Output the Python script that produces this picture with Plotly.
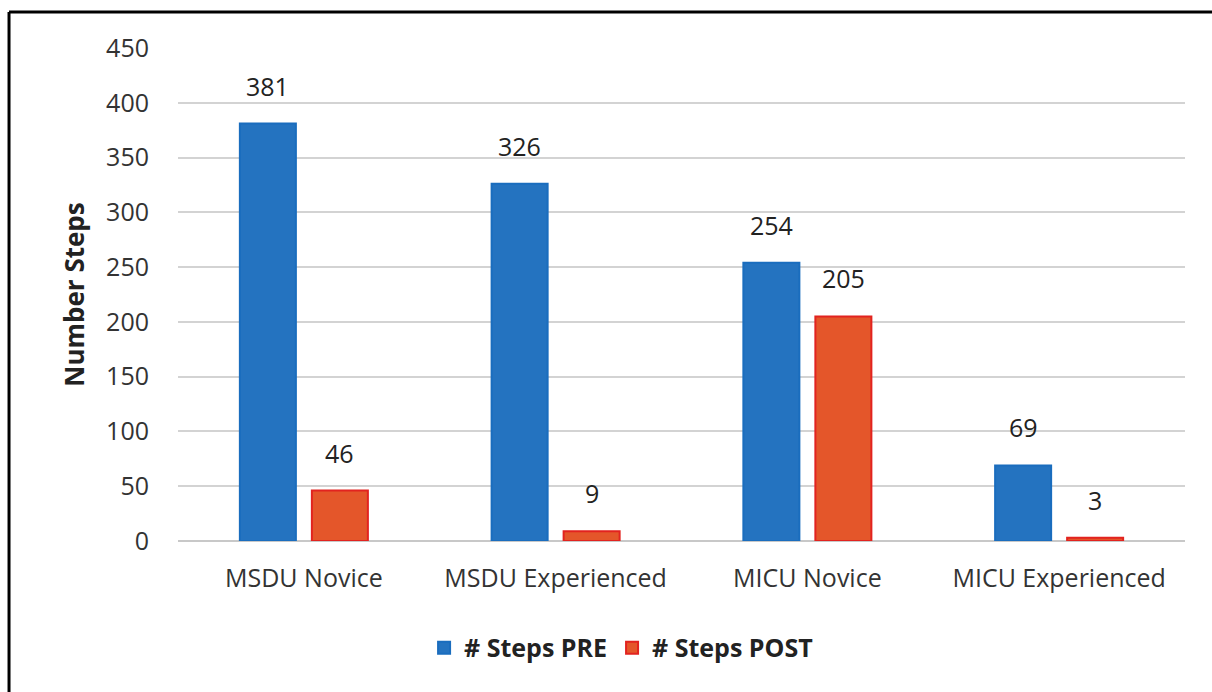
import plotly.graph_objects as go

categories = ["MSDU Novice", "MSDU Experienced", "MICU Novice", "MICU Experienced"]
pre_values = [381, 326, 254, 69]
post_values = [46, 9, 205, 3]
series_names = ["# Steps PRE", "# Steps POST"]
y_ticks = [0, 50, 100, 150, 200, 250, 300, 350, 400, 450]

BLUE = "#2473C0"
BLUE_EDGE = "#1A6DBE"
ORANGE = "#E4562A"
RED_EDGE = "#E2231F"
FONT = "Open Sans"

fig = go.Figure()
fig.add_trace(go.Bar(x=categories, y=pre_values, name=series_names[0],
                     marker=dict(color=BLUE, line=dict(color=BLUE_EDGE, width=2))))
fig.add_trace(go.Bar(x=categories, y=post_values, name=series_names[1],
                     marker=dict(color=ORANGE, line=dict(color=RED_EDGE, width=2))))

# value labels above bars
for i, c in enumerate(categories):
    fig.add_annotation(x=c, y=pre_values[i], text=str(pre_values[i]), showarrow=False,
                       yanchor="bottom", xshift=-36, yshift=19,
                       font=dict(family=FONT, size=25, color="#222"))
    fig.add_annotation(x=c, y=post_values[i], text=str(post_values[i]), showarrow=False,
                       yanchor="bottom", xshift=36, yshift=19,
                       font=dict(family=FONT, size=25, color="#222"))

# outer frame (cropped at right and bottom)
fig.add_shape(type="line", xref="paper", yref="paper", x0=-0.1678, x1=-0.1678, y0=-0.4, y1=1.073,
              line=dict(color="black", width=3))
fig.add_shape(type="line", xref="paper", yref="paper", x0=-0.1678, x1=1.2, y0=1.073, y1=1.073,
              line=dict(color="black", width=3))

fig.update_layout(
    width=1212, height=692,
    margin=dict(l=178, r=27, t=48, b=151),
    paper_bgcolor="white", plot_bgcolor="white",
    barmode="group", bargap=0.428, bargroupgap=0.222,
    font=dict(family=FONT, size=25, color="#333"),
    showlegend=True,
    legend=dict(orientation="h", x=0.44, xanchor="center", y=-0.217, yanchor="middle",
                font=dict(family=FONT, size=25, color="#222", weight="bold"),
                itemwidth=30, traceorder="normal"),
    xaxis=dict(showgrid=False, ticks="", ticklabelstandoff=20,
               tickfont=dict(family=FONT, size=25, color="#333"), showline=False),
    yaxis=dict(range=[0, 450], tickvals=y_ticks, showgrid=True, gridcolor="#D3D3D3", gridwidth=2,
               zeroline=True, zerolinecolor="#C8C8C8", zerolinewidth=2,
               ticks="", ticklabelstandoff=28,
               tickfont=dict(family=FONT, size=25, color="#333"),
               title=dict(text="<b>Number Steps</b>", standoff=14,
                          font=dict(family=FONT, size=26, color="#222"))),
)

fig.write_html("out.html")
